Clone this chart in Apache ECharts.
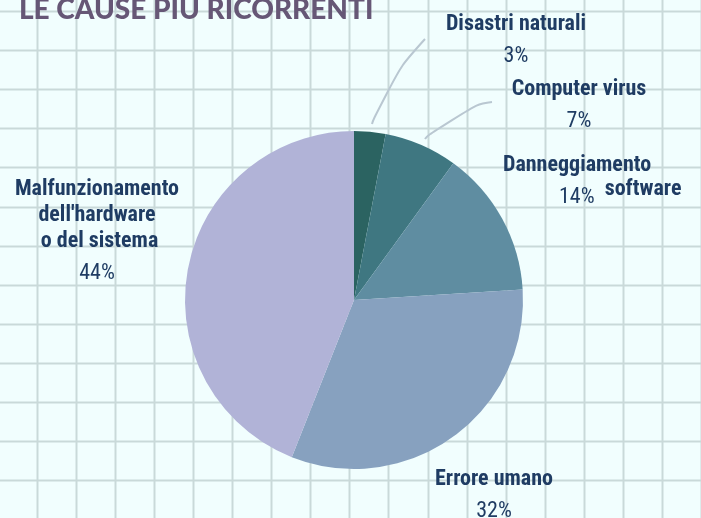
<!DOCTYPE html>
<html>
<head>
<meta charset="utf-8">
<script src="https://cdn.jsdelivr.net/npm/echarts@6/dist/echarts.min.js"></script>
<style>
  html, body { margin: 0; padding: 0; background: #f1fefe; }
  #chart { width: 701px; height: 518px; }
</style>
</head>
<body>
<div id="chart"></div>
<script>
// dati del grafico
const categories = ['Disastri naturali', 'Computer virus', 'Danneggiamento software', 'Errore umano', "Malfunzionamento dell'hardware o del sistema"];
const values = [3, 7, 14, 32, 44];
const colors = ['#2b6361', '#3f7781', '#5f8da1', '#87a1bf', '#b1b3d7'];

const FONT = "'Roboto Condensed', 'Liberation Sans Narrow', 'DejaVu Sans Condensed', Roboto, sans-serif";

// posizione delle etichette (x, y, allineamento)
const labelPos = [
  { x: 516, y: 11, align: 'center' },
  { x: 579, y: 76, align: 'center' },
  { x: 503, y: 152, align: 'left' },
  { x: 494, y: 466, align: 'center' },
  { x: 97, y: 176, align: 'center' }
];
// linee guida curve (inizio, angolo di controllo, fine)
const linePoints = [
  [[372, 124], [380, 89], [425, 39]],
  [[425, 139], [445, 108], [492, 102]]
];

// quadretti di sfondo
const gridLines = [];
for (let k = 0; k < 18; k++) {
  const x = Math.round(36.5 + 39.1 * k) + 0.5;
  gridLines.push({ type: 'line', silent: true, z: -10, shape: { x1: x, y1: 0, x2: x, y2: 518 }, style: { stroke: '#c9d9d9', lineWidth: 2 } });
}
for (let k = 0; k < 14; k++) {
  const y = Math.round(11 + 39.1 * k) + 0.5;
  gridLines.push({ type: 'line', silent: true, z: -10, shape: { x1: 0, y1: y, x2: 701, y2: y }, style: { stroke: '#c9d9d9', lineWidth: 2 } });
}

function labelText(i) {
  const p = '{p|' + values[i] + '%}';
  if (i === 2) return '{n|Danneggiamento}\n{pl|' + values[i] + '%}{s|software}';
  if (i === 4) return "{n|Malfunzionamento}\n{n|dell'hardware}\n{n| o del sistema}\n" + p;
  return '{n|' + categories[i] + '}\n' + p;
}

const chart = echarts.init(document.getElementById('chart'));
chart.setOption({
  backgroundColor: '#f1fefe',
  title: {
    text: 'LE CAUSE PIU RICORRENTI',
    left: 14,
    top: -9,
    textStyle: { fontFamily: 'Lato', fontWeight: 900, fontSize: 28, color: '#665776' }
  },
  graphic: gridLines,
  series: [{
    type: 'pie',
    center: [354, 300],
    radius: 169,
    startAngle: 90,
    clockwise: true,
    avoidLabelOverlap: false,
    emphasis: { disabled: true },
    data: categories.map((c, i) => ({
      name: c,
      value: values[i],
      itemStyle: { color: colors[i] },
      labelLine: { show: i < 2 }
    })),
    label: {
      show: true,
      formatter: (p) => labelText(p.dataIndex),
      rich: {
        n: { fontFamily: FONT, fontWeight: 'bold', fontSize: 22, color: '#1f3c63', lineHeight: 26 },
        p: { fontFamily: FONT, fontSize: 22, color: '#1f3c63', lineHeight: 38 },
        pl: { fontFamily: FONT, fontSize: 22, color: '#1f3c63', lineHeight: 38, align: 'left', padding: [0, 0, 0, 56] },
        s: { fontFamily: FONT, fontWeight: 'bold', fontSize: 22, color: '#1f3c63', lineHeight: 20, align: 'right', verticalAlign: 'top', padding: [0, 0, 0, 10] }
      }
    },
    labelLine: {
      smooth: 0.9,
      lineStyle: { color: '#b9c7d1', width: 2 }
    },
    labelLayout: (params) => {
      const i = params.dataIndex;
      const lp = labelPos[i];
      const out = { x: lp.x, y: lp.y, align: lp.align, verticalAlign: 'top' };
      if (i < 2) out.labelLinePoints = linePoints[i];
      return out;
    }
  }]
});
</script>
</body>
</html>
